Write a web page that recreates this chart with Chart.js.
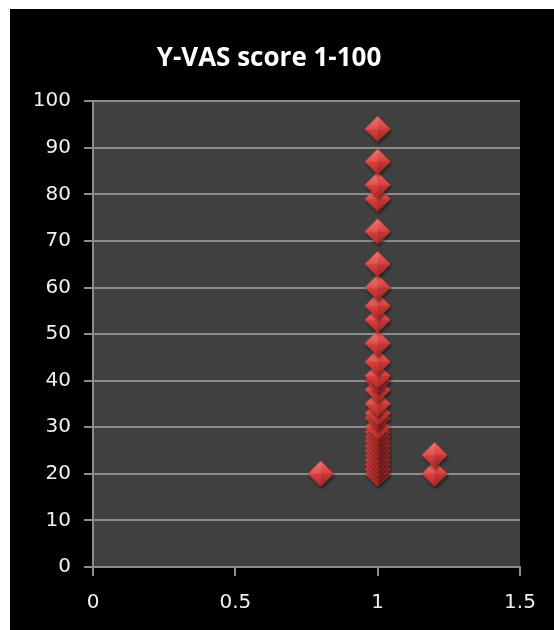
<!DOCTYPE html>
<html>
<head>
<meta charset="utf-8">
<script src="https://cdn.jsdelivr.net/npm/chart.js@4"></script>
<style>
  html, body { margin: 0; padding: 0; background: #ffffff; width: 554px; height: 630px; overflow: hidden; }
  #frame { position: absolute; left: 10px; top: 9px; width: 544px; height: 621px; background: #000000; }
  #wrap { position: absolute; left: 0; top: 0; width: 544px; height: 621px; }
</style>
</head>
<body>
<div id="frame"><div id="wrap"><canvas id="c"></canvas></div></div>
<script>
// ---- data ----
const chartTitle = 'Y-VAS score 1-100';
const groupX = [0.8, 1, 1.2];
const scoresAt08 = [20];
const scoresAt1 = [20, 21, 22, 23, 24, 25, 26, 27, 28, 29, 30, 32, 33, 35, 38, 40, 41, 44, 48, 53, 56, 60, 65, 72, 79, 82, 87, 94];
const scoresAt12 = [20, 24];
const xTicks = [0, 0.5, 1, 1.5];
const yTicks = [0, 10, 20, 30, 40, 50, 60, 70, 80, 90, 100];

// build points from the arrays
const groups = [scoresAt08, scoresAt1, scoresAt12];
const points = [];
groups.forEach((arr, i) => arr.forEach(v => points.push({ x: groupX[i], y: v })));
points.sort((a, b) => a.y - b.y);

// diamond marker image
function makeDiamond(r) {
  const pad = 5;
  const s = 2 * r + pad * 2;
  const cv = document.createElement('canvas');
  cv.width = s; cv.height = s;
  const g = cv.getContext('2d');
  const cx = s / 2, cy = s / 2;
  g.save();
  g.shadowColor = 'rgba(0,0,0,0.55)';
  g.shadowBlur = 3;
  g.shadowOffsetX = 1;
  g.shadowOffsetY = 2;
  const grad = g.createLinearGradient(0, cy - r, 0, cy + r);
  grad.addColorStop(0, '#f06a64');
  grad.addColorStop(0.5, '#da3f3c');
  grad.addColorStop(1, '#b02a28');
  g.fillStyle = grad;
  g.beginPath();
  g.moveTo(cx, cy - r); g.lineTo(cx + r, cy); g.lineTo(cx, cy + r); g.lineTo(cx - r, cy); g.closePath();
  g.fill();
  g.restore();
  g.fillStyle = 'rgba(255,255,255,0.10)';
  g.beginPath();
  g.moveTo(cx, cy - r); g.lineTo(cx - r, cy); g.lineTo(cx, cy); g.closePath();
  g.fill();
  g.fillStyle = 'rgba(0,0,0,0.10)';
  g.beginPath();
  g.moveTo(cx, cy + r); g.lineTo(cx + r, cy); g.lineTo(cx, cy); g.closePath();
  g.fill();
  return cv;
}
const diamond = makeDiamond(13);

const plotBg = {
  id: 'plotBg',
  beforeDraw(chart) {
    const { ctx, chartArea: a } = chart;
    ctx.save();
    ctx.fillStyle = '#404040';
    ctx.fillRect(a.left, a.top, a.right - a.left, a.bottom - a.top);
    ctx.restore();
  }
};

const gridColor = '#8c8c8c';
const tickFont = { family: 'DejaVu Sans', size: 20 };

new Chart(document.getElementById('c'), {
  type: 'scatter',
  data: {
    datasets: [{
      data: points,
      pointStyle: diamond,
      pointRadius: 13,
      pointHoverRadius: 13
    }]
  },
  plugins: [plotBg],
  options: {
    responsive: true,
    maintainAspectRatio: false,
    animation: false,
    layout: { padding: { left: 8, right: 34, top: 0, bottom: 0 } },
    plugins: {
      legend: { display: false },
      tooltip: { enabled: false },
      title: {
        display: true,
        text: chartTitle,
        color: '#ffffff',
        font: { family: 'Open Sans', size: 26, weight: 'bold' },
        padding: { top: 34, bottom: 27 }
      }
    },
    scales: {
      x: {
        type: 'linear',
        min: 0, max: 1.5,
        afterBuildTicks(scale) { scale.ticks = xTicks.map(v => ({ value: v })); },
        afterFit(scale) { scale.height = 63; scale.paddingLeft = 0; scale.paddingRight = 0; },
        ticks: {
          color: '#f0f0f0', font: tickFont, padding: 15,
          callback: v => String(v)
        },
        grid: { drawOnChartArea: false, drawTicks: true, tickLength: 9, color: gridColor, lineWidth: 2 },
        border: { color: gridColor, width: 2 }
      },
      y: {
        type: 'linear',
        min: 0, max: 100,
        afterBuildTicks(scale) { scale.ticks = yTicks.map(v => ({ value: v })); },
        afterFit(scale) { scale.width = 75; scale.paddingTop = 0; scale.paddingBottom = 0; },
        ticks: { color: '#f0f0f0', font: tickFont, padding: 13 },
        grid: { color: gridColor, lineWidth: 2, tickLength: 9 },
        border: { color: gridColor, width: 2 }
      }
    }
  }
});
</script>
</body>
</html>
